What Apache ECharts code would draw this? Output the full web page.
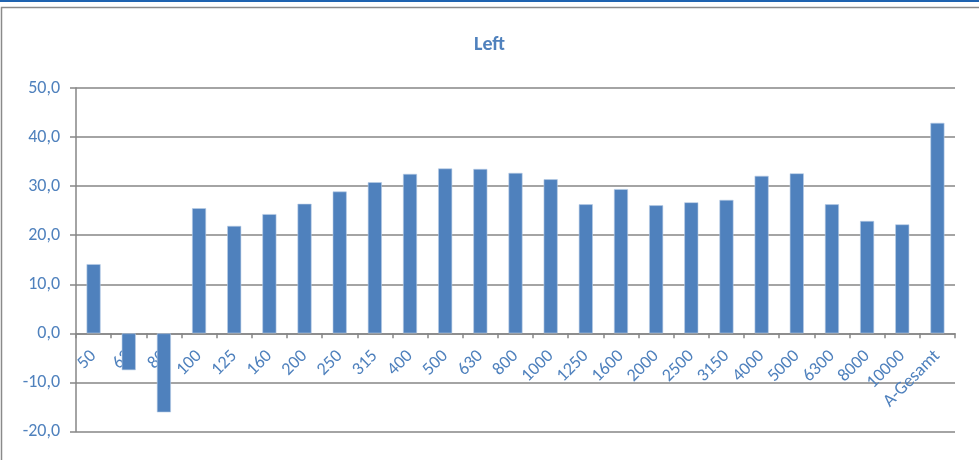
<!DOCTYPE html>
<html>
<head>
<meta charset="utf-8">
<style>
  html, body { margin: 0; padding: 0; background: #ffffff; }
  #chart { width: 979px; height: 460px; }
</style>
<script src="https://cdn.jsdelivr.net/npm/echarts@6/dist/echarts.min.js"></script>
</head>
<body>
<div id="chart"></div>
<script>
// Third-octave band centre frequencies (Hz) plus the A-weighted total
const categories = ['50', '63', '80', '100', '125', '160', '200', '250', '315', '400', '500', '630', '800',
  '1000', '1250', '1600', '2000', '2500', '3150', '4000', '5000', '6300', '8000', '10000', 'A-Gesamt'];

// Level per band, channel "Left"
const leftValues = [14.1, -7.5, -16.1, 25.5, 21.9, 24.3, 26.4, 28.9, 30.8, 32.5, 33.6, 33.5, 32.7,
  31.4, 26.3, 29.4, 26.1, 26.7, 27.2, 32.1, 32.6, 26.3, 22.9, 22.2, 42.9];

// Value-axis range and step
const yMin = -20;
const yMax = 50;
const yStep = 10;

const textBlue = '#4f81bd';
const axisGray = '#868686';
const font = 'Carlito, Calibri, "Open Sans", sans-serif';

// Plot box
const gridTop = 88;
const gridBottom = 28.5;
const plotHeight = 460 - gridTop - gridBottom;
// Lift the category axis from the bottom edge up to the value 0
const zeroOffset = -plotHeight * (0 - yMin) / (yMax - yMin);

const chart = echarts.init(document.getElementById('chart'), null, { renderer: 'canvas' });

chart.setOption({
  animation: false,
  backgroundColor: '#ffffff',
  title: {
    text: 'Left',
    left: 'center',
    top: 30,
    textStyle: { color: textBlue, fontFamily: font, fontSize: 20, fontWeight: 'bold' }
  },
  graphic: [
    { type: 'rect', shape: { x: 0, y: 0, width: 979, height: 2 }, style: { fill: '#1f63b0' }, silent: true },
    { type: 'rect', shape: { x: 1.5, y: 7.5, width: 990, height: 470 },
      style: { fill: null, stroke: '#8a8a8a', lineWidth: 1.5 }, silent: true }
  ],
  grid: { left: 76, right: 24, top: gridTop, bottom: gridBottom, containLabel: false, outerBoundsMode: 'none' },
  xAxis: {
    type: 'category',
    data: categories,
    boundaryGap: true,
    position: 'bottom',
    offset: zeroOffset,
    axisLine: { show: true, onZero: false, lineStyle: { color: axisGray, width: 1.5 } },
    axisTick: { show: true, length: 5, alignWithLabel: false, lineStyle: { color: axisGray, width: 1.5 } },
    axisLabel: {
      interval: 0,
      rotate: 45,
      margin: 20,
      color: textBlue,
      fontFamily: font,
      fontSize: 18
    },
    splitLine: { show: false }
  },
  yAxis: {
    type: 'value',
    min: yMin,
    max: yMax,
    interval: yStep,
    axisLine: { show: true, lineStyle: { color: axisGray, width: 1.5 } },
    axisTick: { show: true, length: 6, lineStyle: { color: axisGray, width: 1.5 } },
    axisLabel: {
      margin: 16,
      color: textBlue,
      fontFamily: font,
      fontSize: 18,
      formatter: v => v.toFixed(1).replace('.', ',')
    },
    splitLine: { show: true, lineStyle: { color: axisGray, width: 1.5 } }
  },
  series: [{
    name: 'Left',
    type: 'bar',
    data: leftValues,
    barWidth: 14,
    itemStyle: { color: '#4f81bd', borderColor: '#b9cde5', borderWidth: 0.6 }
  }]
});
</script>
</body>
</html>
